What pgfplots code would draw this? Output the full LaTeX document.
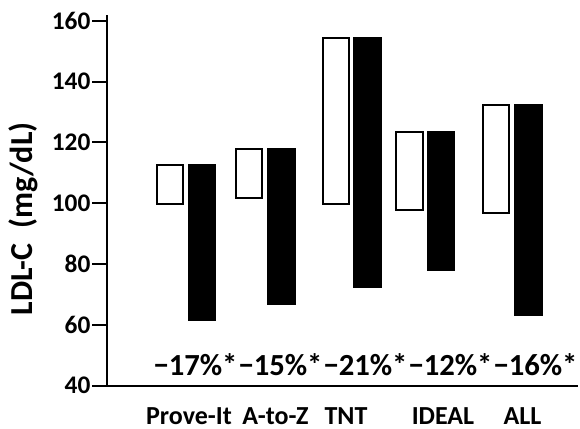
\documentclass[border=0pt]{standalone}
\usepackage{pgfplots}
\pgfplotsset{compat=1.18}
\usepackage{pgfplotstable}
\usepackage{fontspec}
\setmainfont{Carlito}

% x = horizontal position of the bar centre, bottom/top = LDL-C (mg/dL)
\pgfplotstableread{
x      bottom  top
170.2  99.7   112.6
249.2  101.6  117.8
336.2  99.9   154.4
409.5  97.9   123.3
496.2  96.8   132.4
}\whitebars
\pgfplotstableread{
x      bottom  top
202.0  61.7   112.6
281.7  66.8   117.8
367.7  72.5   154.4
441.2  78.0   123.3
528.3  63.3   132.4
}\blackbars

\tikzset{pct/.style={font=\bfseries\fontsize{23}{25}\selectfont, anchor=base, inner sep=0pt}}

\begin{document}
\begin{tikzpicture}
\begin{axis}[
  scale only axis, width=353.25pt, height=273.75pt,
  xmin=107, xmax=578, ymin=40, ymax=160,
  ybar stacked, bar width=26.5,
  axis lines=left,
  axis line style={line width=1.5pt, -},
  y axis line style={shorten >=-4pt},
  ytick={40,60,80,100,120,140,160},
  tick align=outside,
  major tick length=11.25pt,
  tick style={line width=1.5pt, black},
  xtick={189,275.5,346,443,522.5},
  xticklabels={Prove-It, A-to-Z, TNT, IDEAL, ALL},
  xtick style={draw=none},
  /pgf/number format/assume math mode=true,
  yticklabel style={font=\bfseries\fontsize{19}{21}\selectfont, inner sep=1pt},
  xticklabel style={font=\bfseries\fontsize{19.5}{21}\selectfont, anchor=base, inner sep=0pt, text depth=0pt, yshift=-17.5pt},
  ylabel={LDL-C\ \ (mg/dL)},
  ylabel style={at={(axis description cs:-0.178,0.457)}, anchor=center, font=\bfseries\fontsize{24}{26}\selectfont},
]
\addplot[draw=none, fill=none] table[x=x, y=bottom] {\whitebars};
\addplot[draw=black, fill=white, line width=1.5pt] table[x=x, y expr=\thisrow{top}-\thisrow{bottom}] {\whitebars};
\node[pct] at (axis cs:195.5,43.5) {−17\%*};
\node[pct] at (axis cs:280.5,43.5) {−15\%*};
\node[pct] at (axis cs:365.5,43.5) {−21\%*};
\node[pct] at (axis cs:450.5,43.5) {−12\%*};
\node[pct] at (axis cs:535.5,43.5) {−16\%*};
\end{axis}
\begin{axis}[
  scale only axis, width=353.25pt, height=273.75pt,
  xmin=107, xmax=578, ymin=40, ymax=160,
  ybar stacked, bar width=26.5,
  hide axis]
\addplot[draw=none, fill=none] table[x=x, y=bottom] {\blackbars};
\addplot[draw=black, fill=black, line width=1.5pt] table[x=x, y expr=\thisrow{top}-\thisrow{bottom}] {\blackbars};
\end{axis}
\pgfresetboundingbox
\path (-80.25pt,-31.725pt) rectangle (354.75pt,289.275pt);
\end{tikzpicture}
\end{document}
